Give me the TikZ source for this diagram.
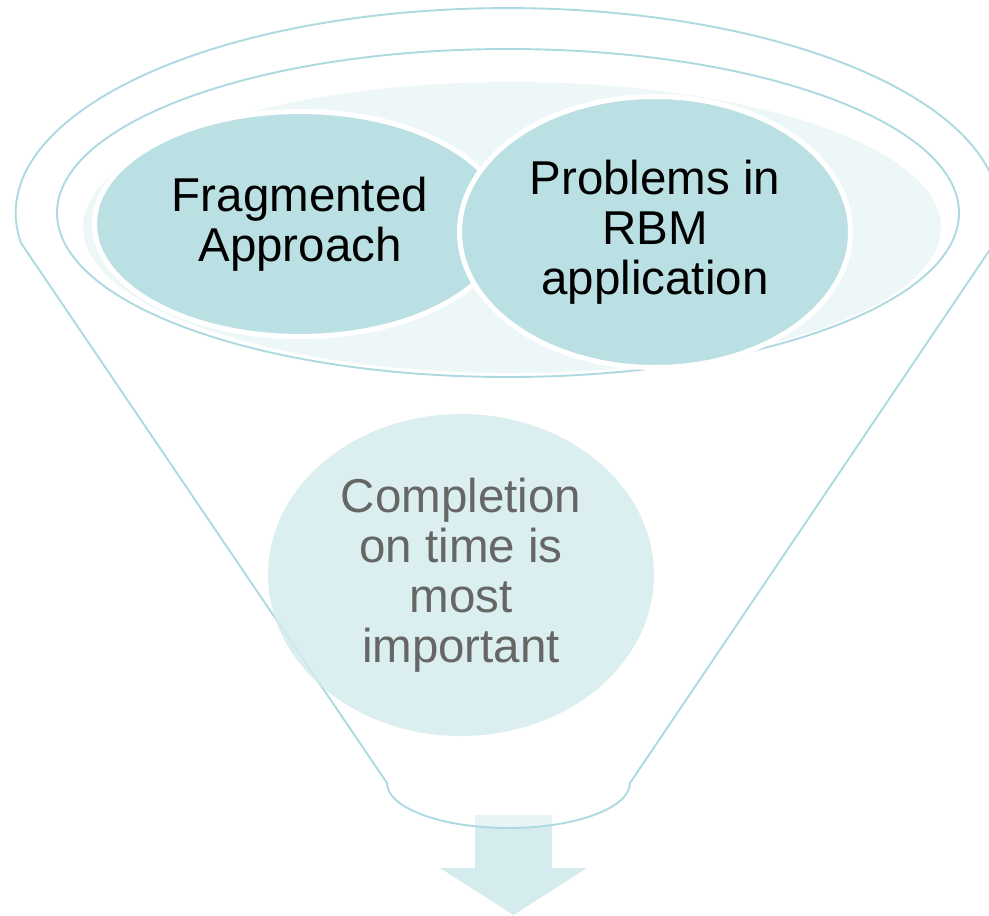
\documentclass[tikz,border=0pt]{standalone}
\usepackage{fontspec}
\setmainfont{Liberation Sans}
\usetikzlibrary{shapes.geometric}
\definecolor{funnelline}{RGB}{172,218,224}
\definecolor{lightfill}{RGB}{238,247,247}
\definecolor{topfill}{RGB}{187,224,227}
\definecolor{lowfill}{RGB}{213,236,238}
\definecolor{graytext}{RGB}{102,102,102}
\tikzset{
  outline/.style={draw=funnelline, line width=1.9pt},
  topoval/.style={ellipse, fill=topfill, draw=white, line width=5pt, inner sep=0pt,
    align=center, font=\fontsize{47.5}{50}\selectfont, text=black},
  lowoval/.style={ellipse, fill=lowfill, fill opacity=0.85, text opacity=1, inner sep=0pt,
    align=center, font=\fontsize{47.5}{50}\selectfont, text=graytext},
  arrowshape/.style={fill=lowfill}
}
\begin{document}
\begin{tikzpicture}[x=1pt,y=1pt]
\useasboundingbox (0,0) rectangle (989,-916);
% down arrow
\fill[arrowshape] (475,-815) -- (552,-815) -- (552,-868) -- (587,-868) -- (513.5,-915)
  -- (440,-868) -- (475,-868) -- cycle;
% funnel body
\draw[outline, fill=white, fill opacity=0.45]
  (21,-243) arc[start angle=188.4, end angle=-8.4, x radius=492, y radius=205]
  -- (630,-783) arc[start angle=0, end angle=-180, x radius=121.5, y radius=45]
  -- cycle;
% inner rim
\draw[outline] (508,-213) ellipse[x radius=451, y radius=164];
\fill[lightfill] (512,-227.5) ellipse[x radius=429, y radius=145.5];
% items
\node[topoval, minimum width=411pt, minimum height=225pt] (frag) at (300,-224)
  {Fragmented\\Approach};
\node[topoval, minimum width=391pt, minimum height=271pt] (rbm) at (655,-232)
  {Problems in\\RBM\\application};
\node[lowoval, minimum width=386pt, minimum height=322pt] (comp) at (461,-575)
  {Completion\\on time is\\most\\important};
\end{tikzpicture}
\end{document}
